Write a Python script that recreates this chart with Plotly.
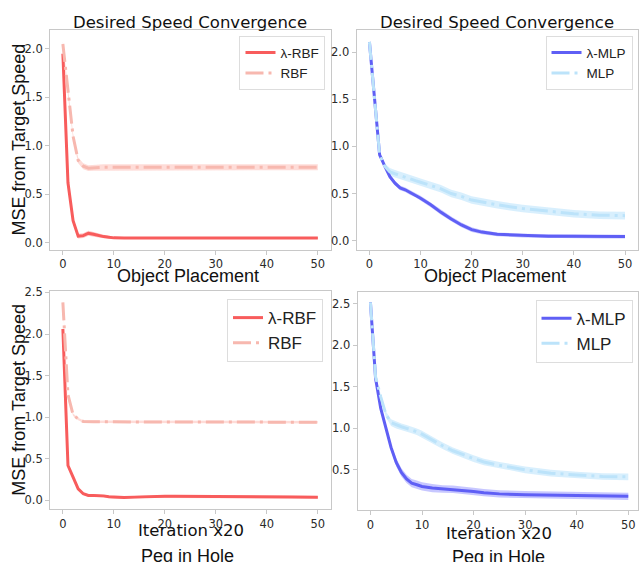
import plotly.graph_objects as go

W, H = 639, 562

# ---------------- data ----------------
X = [0, 1, 2, 3, 4, 5, 6, 7, 8, 9, 10, 12, 14, 16, 18, 20, 22, 25, 30, 35, 40, 45, 50]

# Object Placement
op_lrbf = [1.95, 0.62, 0.23, 0.07, 0.075, 0.10, 0.09, 0.075, 0.065, 0.058, 0.052, 0.05, 0.05, 0.05, 0.05,
           0.05, 0.05, 0.05, 0.05, 0.05, 0.05, 0.05, 0.05]
op_lrbf_sd = [0.03, 0.03, 0.03, 0.025, 0.025, 0.025, 0.022, 0.02, 0.018, 0.015, 0.012, 0.01, 0.01, 0.01,
              0.01, 0.01, 0.01, 0.01, 0.01, 0.01, 0.01, 0.01, 0.01]
op_rbf = [2.05, 1.54, 1.10, 0.85, 0.79, 0.77, 0.775, 0.78, 0.78, 0.78, 0.78, 0.78, 0.78, 0.78, 0.78,
          0.78, 0.78, 0.78, 0.78, 0.78, 0.78, 0.78, 0.78]
op_rbf_sd = [0.03] * 23

op_lmlp = [2.11, 1.52, 0.91, 0.79, 0.68, 0.61, 0.56, 0.54, 0.51, 0.486, 0.45, 0.38, 0.30, 0.23, 0.166,
           0.116, 0.09, 0.067, 0.053, 0.047, 0.045, 0.043, 0.042]
op_lmlp_sd = [0.02, 0.02, 0.02, 0.02, 0.025, 0.025, 0.025, 0.025, 0.025, 0.025, 0.025, 0.025, 0.025, 0.025,
              0.025, 0.025, 0.022, 0.02, 0.02, 0.02, 0.02, 0.02, 0.02]
op_mlp = [2.11, 1.52, 0.91, 0.79, 0.73, 0.71, 0.69, 0.672, 0.655, 0.637, 0.62, 0.585, 0.55, 0.50, 0.47,
          0.43, 0.41, 0.38, 0.34, 0.31, 0.285, 0.27, 0.265]
op_mlp_sd = [0.02, 0.02, 0.02, 0.03, 0.04, 0.04, 0.04, 0.04, 0.04, 0.04, 0.04, 0.04, 0.04, 0.04, 0.04,
             0.04, 0.04, 0.04, 0.04, 0.04, 0.04, 0.04, 0.04]

# Peg in Hole
ph_lrbf = [2.06, 0.42, 0.28, 0.14, 0.08, 0.06, 0.06, 0.058, 0.055, 0.045, 0.04, 0.035, 0.04, 0.045,
           0.05, 0.05, 0.05, 0.048, 0.045, 0.043, 0.042, 0.041, 0.04]
ph_lrbf_sd = [0.015] * 23
ph_rbf = [2.38, 1.27, 1.03, 0.98, 0.95, 0.945, 0.945, 0.945, 0.945, 0.945, 0.945, 0.945, 0.945, 0.945,
          0.945, 0.945, 0.945, 0.945, 0.94, 0.94, 0.94, 0.94, 0.94]
ph_rbf_sd = [0.015] * 23

ph_lmlp = [2.52, 1.60, 1.24, 1.00, 0.77, 0.59, 0.47, 0.39, 0.34, 0.32, 0.30, 0.28, 0.27, 0.265, 0.257,
           0.24, 0.225, 0.21, 0.20, 0.195, 0.19, 0.185, 0.18]
ph_lmlp_sd = [0.02, 0.02, 0.02, 0.03, 0.04, 0.05, 0.05, 0.05, 0.05, 0.05, 0.05, 0.05, 0.045, 0.045, 0.045,
              0.045, 0.045, 0.045, 0.045, 0.045, 0.045, 0.045, 0.045]
ph_mlp = [2.52, 1.62, 1.38, 1.17, 1.07, 1.04, 1.02, 1.00, 0.98, 0.96, 0.93, 0.855, 0.79, 0.73, 0.68,
          0.635, 0.595, 0.555, 0.50, 0.46, 0.437, 0.42, 0.415]
ph_mlp_sd = [0.02, 0.02, 0.03, 0.035, 0.04, 0.04, 0.04, 0.04, 0.04, 0.04, 0.04, 0.04, 0.04, 0.04, 0.04,
             0.04, 0.04, 0.04, 0.04, 0.04, 0.04, 0.04, 0.04]

X_TICKS = [0, 10, 20, 30, 40, 50]
TITLE = "Desired Speed Convergence"
Y_LABEL = "MSE from Target Speed"
TASK_TOP = "Object Placement"
TASK_BOTTOM = "Peg in Hole"
ITER_LABEL = "Iteration x20"

# ---------------- style ----------------
C_LRBF, F_LRBF = "rgb(248,92,92)", "rgba(255,0,0,0.22)"
C_RBF, F_RBF = "rgb(247,184,175)", "rgba(250,128,114,0.28)"
C_LMLP, F_LMLP = "rgb(95,95,245)", "rgba(0,0,255,0.22)"
C_MLP, F_MLP = "rgb(188,227,250)", "rgba(135,206,250,0.32)"
DASHDOT = "18px,5px,3px,5px"

fig = go.Figure()


def px_x(p):
    return p / W


def px_y(p):
    return 1 - p / H


panels = [
    ("", (50.2, 331.1), (25, 246.7), [-2.5, 52.5], [-0.068, 2.197], 0.5),
    ("2", (357.2, 638.8), (25, 246.7), [-2.5, 52.5], [-0.095, 2.24], 0.5),
    ("3", (50.2, 331.1), (288.3, 508.3), [-2.5, 52.5], [-0.1, 2.52], 0.5),
    ("4", (358.1, 639), (289.3, 510), [-2.5, 51.88], [0.01, 2.648], 0.5),
]

series = [
    (0, "legend", [(op_lrbf, op_lrbf_sd, C_LRBF, F_LRBF, "solid", "λ-RBF"),
                   (op_rbf, op_rbf_sd, C_RBF, F_RBF, DASHDOT, "RBF")]),
    (1, "legend2", [(op_lmlp, op_lmlp_sd, C_LMLP, F_LMLP, "solid", "λ-MLP"),
                    (op_mlp, op_mlp_sd, C_MLP, F_MLP, DASHDOT, "MLP")]),
    (2, "legend3", [(ph_lrbf, ph_lrbf_sd, C_LRBF, F_LRBF, "solid", "λ-RBF"),
                    (ph_rbf, ph_rbf_sd, C_RBF, F_RBF, DASHDOT, "RBF")]),
    (3, "legend4", [(ph_lmlp, ph_lmlp_sd, C_LMLP, F_LMLP, "solid", "λ-MLP"),
                    (ph_mlp, ph_mlp_sd, C_MLP, F_MLP, DASHDOT, "MLP")]),
]

for idx, leg, lst in series:
    sfx = panels[idx][0]
    xa, ya = "x" + sfx, "y" + sfx
    for vals, sd, col, fcol, dash, name in lst:
        up = [v + s for v, s in zip(vals, sd)]
        lo = [v - s for v, s in zip(vals, sd)]
        fig.add_trace(go.Scatter(x=X + X[::-1], y=up + lo[::-1], fill="toself", fillcolor=fcol,
                                 line=dict(width=0), mode="lines", showlegend=False,
                                 hoverinfo="skip", xaxis=xa, yaxis=ya))
    for vals, sd, col, fcol, dash, name in lst:
        fig.add_trace(go.Scatter(x=X, y=vals, mode="lines", name=name,
                                 line=dict(color=col, width=3, dash=dash),
                                 legend=leg, xaxis=xa, yaxis=ya))

tickfont = dict(family="DejaVu Sans", size=11.5, color="#2a2a2a")
layout = dict(width=W, height=H, margin=dict(l=0, r=0, t=0, b=0),
              paper_bgcolor="white", plot_bgcolor="white", showlegend=True)

for sfx, xd, yd, xr, yr, dt in panels:
    layout["xaxis" + sfx] = dict(domain=[px_x(xd[0]), px_x(xd[1])], range=xr, anchor="y" + sfx,
                                 tickvals=X_TICKS, ticks="outside", ticklen=4, tickcolor="#c8c8c8",
                                 showline=True, mirror=True, linecolor="#c8c8c8", linewidth=1,
                                 showgrid=False, zeroline=False, tickfont=tickfont)
    layout["yaxis" + sfx] = dict(domain=[px_y(yd[1]), px_y(yd[0])], range=yr, anchor="x" + sfx,
                                 dtick=dt, tick0=0, tickformat=".1f", ticks="outside", ticklen=4,
                                 tickcolor="#c8c8c8", showline=True, mirror=True, linecolor="#c8c8c8",
                                 linewidth=1, showgrid=False, zeroline=False, tickfont=tickfont)

legfont_s = dict(family="Liberation Sans", size=13.5, color="#222222")
legfont_l = dict(family="Liberation Sans", size=17, color="#222222")
legbase = dict(bgcolor="rgba(255,255,255,0.85)", bordercolor="#dddddd", borderwidth=1,
               xanchor="right", yanchor="top", xref="paper", yref="paper")
layout["legend"] = dict(legbase, x=px_x(326), y=px_y(31.5), font=legfont_s)
layout["legend2"] = dict(legbase, x=px_x(633.5), y=px_y(31.5), font=legfont_s)
layout["legend3"] = dict(legbase, x=px_x(323.5), y=px_y(296.7), font=legfont_l)
layout["legend4"] = dict(legbase, x=px_x(633.5), y=px_y(297.3), font=legfont_l)

fig.update_layout(**layout)

ann = []
arial = "Liberation Sans"
dejavu = "DejaVu Sans"
for cx in [(50.2 + 331.1) / 2, (357.2 + 638.8) / 2]:
    ann.append(dict(text=TITLE, x=px_x(cx), y=px_y(17.5), font=dict(family=dejavu, size=16.5, color="#111")))
    ann.append(dict(text=TASK_TOP, x=px_x(cx - 2), y=px_y(273), font=dict(family=arial, size=18, color="#111")))
ann.append(dict(text=ITER_LABEL, x=px_x(191), y=px_y(530.5), font=dict(family=dejavu, size=16.5, color="#111")))
ann.append(dict(text=ITER_LABEL, x=px_x(499.5), y=px_y(533), font=dict(family=dejavu, size=16.5, color="#111")))
ann.append(dict(text=TASK_BOTTOM, x=px_x(187.5), y=px_y(555.5), font=dict(family=arial, size=18, color="#111")))
ann.append(dict(text=TASK_BOTTOM, x=px_x(499.5), y=px_y(557), font=dict(family=arial, size=18, color="#111")))
ann.append(dict(text=Y_LABEL, x=px_x(19), y=px_y(135.8), textangle=-90, font=dict(family=arial, size=18, color="#111")))
ann.append(dict(text=Y_LABEL, x=px_x(19), y=px_y(398.3), textangle=-90, font=dict(family=arial, size=18, color="#111")))

for a in ann:
    a.update(xref="paper", yref="paper", showarrow=False, xanchor="center", yanchor="middle")
fig.update_layout(annotations=ann)

fig.write_html("out.html", config={"displayModeBar": False},
               post_script="document.body.style.margin='0';document.body.style.overflow='hidden';")
